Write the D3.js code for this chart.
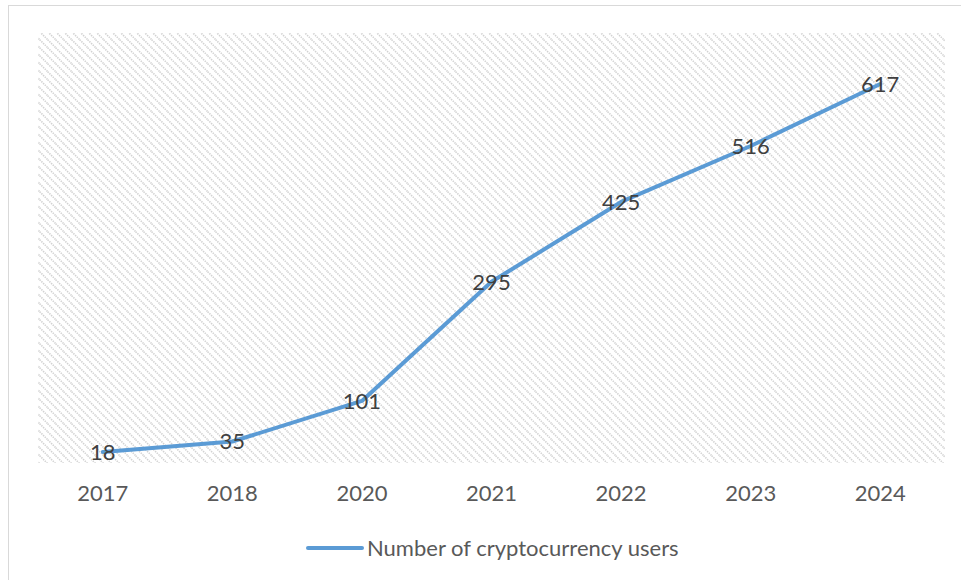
<!DOCTYPE html>
<html>
<head>
<meta charset="utf-8">
<script src="https://cdn.jsdelivr.net/npm/d3@7"></script>
<style>
  body { margin: 0; background: #fff; }
  text { font-family: Lato, "Open Sans", sans-serif; }
</style>
</head>
<body>
<div id="body"></div>
<script>
// data
var years = ['2017', '2018', '2020', '2021', '2022', '2023', '2024'];
var users = [18, 35, 101, 295, 425, 516, 617];
var seriesName = 'Number of cryptocurrency users';

var width = 961, height = 580;
var plot = { left: 38, right: 945, top: 33, bottom: 463 };
var fontSize = '22px';

var svg = d3.select('#body')
    .append('svg')
    .attr('width', width)
    .attr('height', height);

// hatch pattern for the plot area
var defs = svg.append('defs');
var pat = defs.append('pattern')
    .attr('id', 'hatch')
    .attr('patternUnits', 'userSpaceOnUse')
    .attr('width', 8)
    .attr('height', 8);
pat.append('path')
    .attr('d', 'M-2,-2 L10,10 M-2,6 L2,10 M6,-2 L10,2')
    .attr('stroke', '#d2d2d2')
    .attr('stroke-width', 1.6)
    .attr('stroke-dasharray', '1.4,1');

// bit of a caption cut off above the chart
svg.append('text')
    .attr('x', 9)
    .attr('y', -4)
    .attr('font-size', '17px')
    .attr('fill', '#000')
    .text('g');

// outer frame
svg.append('rect')
    .attr('x', 8.5)
    .attr('y', 5.5)
    .attr('width', 970)
    .attr('height', 600)
    .attr('fill', 'none')
    .attr('stroke', '#d9d9d9');

svg.append('rect')
    .attr('x', plot.left)
    .attr('y', plot.top)
    .attr('width', plot.right - plot.left)
    .attr('height', plot.bottom - plot.top)
    .attr('fill', 'url(#hatch)');

var x = d3.scaleBand()
    .domain(years)
    .range([plot.left, plot.right])
    .padding(0);

var y = d3.scaleLinear()
    .domain([0, 700])
    .range([plot.bottom, plot.top]);

var cx = function (d, i) { return x(years[i]) + x.bandwidth() / 2; };

// x axis labels
var xAxis = svg.append('g')
    .attr('transform', 'translate(0,' + plot.bottom + ')')
    .call(d3.axisBottom(x).tickSize(0).tickPadding(22));
xAxis.select('.domain').remove();
xAxis.selectAll('text')
    .attr('font-size', fontSize)
    .attr('fill', '#595959')
    .style('font-family', 'Lato, "Open Sans", sans-serif');

// the line
var line = d3.line()
    .x(cx)
    .y(function (d) { return y(d); });

svg.append('path')
    .datum(users)
    .attr('d', line)
    .attr('fill', 'none')
    .attr('stroke', '#5b9bd5')
    .attr('stroke-width', 4)
    .attr('stroke-linecap', 'round')
    .attr('stroke-linejoin', 'round');

// data labels, centred on the points
svg.selectAll('.lbl')
    .data(users)
    .enter()
    .append('text')
    .attr('class', 'lbl')
    .attr('x', cx)
    .attr('y', function (d) { return y(d); })
    .attr('dy', '0.36em')
    .attr('text-anchor', 'middle')
    .attr('font-size', fontSize)
    .attr('fill', '#404040')
    .text(function (d) { return d; });

// legend
var legend = svg.append('g');
legend.append('line')
    .attr('x1', 308)
    .attr('x2', 362)
    .attr('y1', 548)
    .attr('y2', 548)
    .attr('stroke', '#5b9bd5')
    .attr('stroke-width', 4)
    .attr('stroke-linecap', 'round');
legend.append('text')
    .attr('x', 367)
    .attr('y', 548)
    .attr('dy', '0.36em')
    .attr('font-size', fontSize)
    .attr('fill', '#595959')
    .text(seriesName);
</script>
</body>
</html>
